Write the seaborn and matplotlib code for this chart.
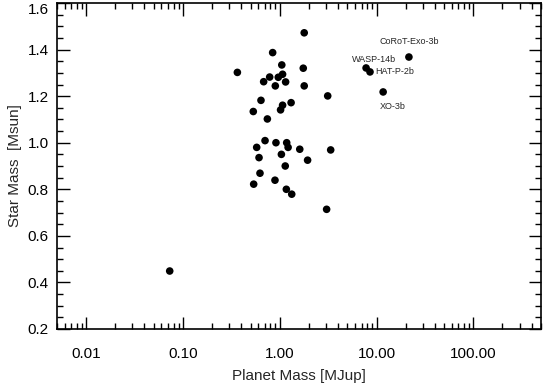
import matplotlib
matplotlib.use("Agg")
import matplotlib.pyplot as plt
import matplotlib.ticker as mticker
import seaborn as sns
import pandas as pd

# ---- data ----
planet_mass = [1.79, 0.845, 1.05, 1.75, 0.365, 0.787, 0.682, 0.966, 1.07, 1.15,
               0.90, 1.79, 3.13, 0.64, 1.31, 1.07, 1.02, 0.533, 0.745, 0.705,
               0.914, 0.578, 1.18, 1.22, 1.61, 3.36, 1.04, 0.611, 1.94, 1.14,
               0.625, 0.893, 0.538, 1.17, 1.33, 3.05, 0.073,
               21.6, 7.8, 8.56, 11.7]
star_mass = [1.472, 1.387, 1.334, 1.320, 1.302, 1.282, 1.262, 1.281, 1.294, 1.261,
             1.244, 1.244, 1.201, 1.182, 1.172, 1.161, 1.141, 1.134, 1.102, 1.009,
             1.000, 0.980, 1.000, 0.980, 0.972, 0.969, 0.950, 0.936, 0.925, 0.900,
             0.869, 0.839, 0.822, 0.800, 0.779, 0.714, 0.449,
             1.368, 1.321, 1.304, 1.218]

label_names = ["CoRoT-Exo-3b", "WASP-14b", "HAT-P-2b", "XO-3b"]
label_x = [21.6, 7.8, 8.56, 11.7]
label_y = [1.368, 1.321, 1.304, 1.218]

x_ticks = [0.01, 0.1, 1, 10, 100]
x_tick_labels = ["0.01", "0.10", "1.00", "10.00", "100.00"]
y_ticks = [0.2, 0.4, 0.6, 0.8, 1.0, 1.2, 1.4, 1.6]
y_tick_labels = ["0.2", "0.4", "0.6", "0.8", "1.0", "1.2", "1.4", "1.6"]

df = pd.DataFrame({"Planet Mass": planet_mass, "Star Mass": star_mass})

sns.set_style("ticks")
plt.rcParams["font.family"] = ["Liberation Sans", "DejaVu Sans"]

fig = plt.figure(figsize=(5.43, 3.87), dpi=100)
ax = fig.add_axes([57 / 543, 1 - 329 / 387, (541 - 57) / 543, (329 - 3) / 387])

sns.scatterplot(data=df, x="Planet Mass", y="Star Mass", ax=ax,
                color="black", s=30, edgecolor="none", linewidth=0)

ax.set_xscale("log")
ax.set_xlim(0.005, 500)
ax.set_ylim(0.2, 1.6)

ax.xaxis.set_major_locator(mticker.FixedLocator(x_ticks))
ax.xaxis.set_major_formatter(mticker.FixedFormatter(x_tick_labels))
ax.xaxis.set_minor_locator(mticker.LogLocator(base=10, subs=range(2, 10)))
ax.xaxis.set_minor_formatter(mticker.NullFormatter())
ax.yaxis.set_major_locator(mticker.FixedLocator(y_ticks))
ax.yaxis.set_major_formatter(mticker.FixedFormatter(y_tick_labels))
ax.yaxis.set_minor_locator(mticker.MultipleLocator(0.05))

ax.tick_params(which="both", direction="in", top=True, right=True,
               colors="black", labelsize=11)
ax.tick_params(axis="x", which="major", length=9, width=1, pad=13)
ax.tick_params(axis="y", which="major", length=9, width=1, pad=6)
ax.tick_params(which="minor", length=4.5, width=1)
for sp in ax.spines.values():
    sp.set_linewidth(1.2)
    sp.set_color("black")

ax.set_xlabel("Planet Mass [MJup]", fontsize=11, labelpad=6)
ax.set_ylabel("Star Mass  [Msun]", fontsize=11, labelpad=4)

fig.canvas.draw()
top_lbl = ax.get_yticklabels()[-1]
top_lbl.set_verticalalignment("top")

offsets = [(0, 8), (6, 6), (18, 0), (7, -7)]
aligns = [("center", "bottom"), ("center", "center"), ("center", "center"), ("center", "top")]
for name, lx, ly, off, (ha, va) in zip(label_names, label_x, label_y, offsets, aligns):
    ax.annotate(name, (lx, ly), xytext=off, textcoords="offset points",
                ha=ha, va=va, fontsize=6.5,
                family=["Liberation Sans Narrow", "Liberation Sans", "DejaVu Sans"])

fig.savefig("out.png", dpi=100)
